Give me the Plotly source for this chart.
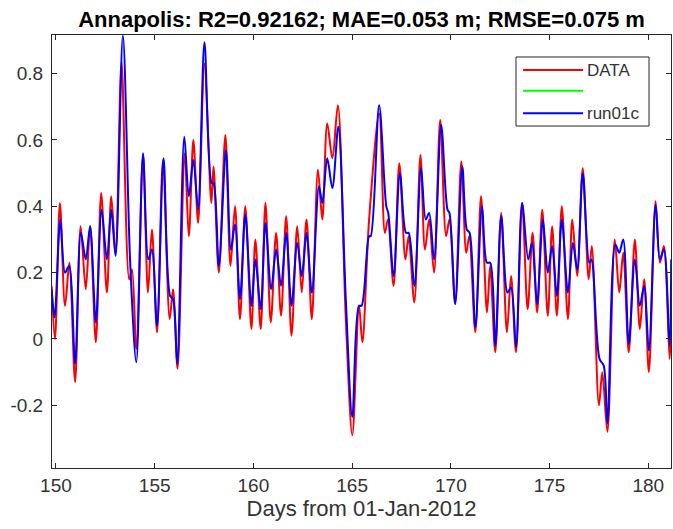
import plotly.graph_objects as go

# Observed water level (DATA) – turning points, day of year 2012 / metres
data_day = [149.78, 149.95, 150.20, 150.46, 150.68, 150.97, 151.25, 151.51, 151.73, 152.02,
            152.29, 152.58, 152.80, 153.02, 153.32, 153.71, 153.85, 154.07, 154.41, 154.66,
            154.86, 155.12, 155.42, 155.76, 155.93, 156.16, 156.52, 156.73, 156.96, 157.20,
            157.52, 157.87, 157.98, 158.25, 158.58, 158.84, 159.07, 159.32, 159.59, 159.90,
            160.10, 160.37, 160.61, 160.88, 161.15, 161.40, 161.66, 161.93, 162.22, 162.45,
            162.69, 162.96, 163.27, 163.49, 163.74, 164.00, 164.28, 164.68, 165.01, 165.35,
            165.52, 165.86, 166.37, 166.66, 166.81, 167.10, 167.39, 167.70, 167.86, 168.15,
            168.46, 168.69, 168.90, 169.15, 169.46, 169.76, 169.93, 170.22, 170.53, 170.78,
            170.93, 171.24, 171.53, 171.83, 171.99, 172.25, 172.55, 172.84, 173.05, 173.30,
            173.61, 173.89, 174.14, 174.37, 174.63, 174.91, 175.13, 175.37, 175.62, 175.93,
            176.15, 176.40, 176.68, 176.98, 177.14, 177.50, 177.67, 177.93, 178.30, 178.53,
            178.73, 179.01, 179.32, 179.57, 179.79, 180.03, 180.37, 180.59, 180.79, 181.08,
            181.16]
data_val = [0.16, 0.00, 0.41, 0.10, 0.23, -0.13, 0.34, 0.15, 0.34, -0.01,
            0.44, 0.14, 0.43, 0.26, 0.835, 0.18, 0.21, -0.03, 0.555, 0.14,
            0.33, 0.02, 0.54, 0.06, 0.15, -0.09, 0.56, 0.31, 0.60, 0.35,
            0.83, 0.41, 0.52, 0.20, 0.615, 0.22, 0.40, 0.06, 0.40, 0.03,
            0.30, 0.03, 0.41, 0.05, 0.32, 0.07, 0.37, 0.01, 0.34, 0.14,
            0.36, 0.06, 0.51, 0.36, 0.65, 0.545, 0.705, 0.06, -0.29, 0.10,
            -0.01, 0.36, 0.68, 0.32, 0.36, 0.16, 0.53, 0.24, 0.31, 0.11,
            0.555, 0.27, 0.36, 0.20, 0.66, 0.31, 0.36, 0.11, 0.535, 0.26,
            0.31, 0.02, 0.43, 0.08, 0.22, -0.04, 0.38, 0.02, 0.19, -0.04,
            0.41, 0.09, 0.32, 0.08, 0.39, 0.07, 0.34, 0.07, 0.40, 0.06,
            0.36, 0.19, 0.515, 0.18, 0.28, -0.20, -0.10, -0.28, 0.30, 0.14,
            0.26, -0.04, 0.30, 0.03, 0.18, -0.10, 0.415, 0.23, 0.28, -0.06,
            0.05]

# Model run01c – turning points, day of year 2012 / metres
model_day = [149.78, 149.93, 150.22, 150.46, 150.66, 150.97, 151.26, 151.51, 151.73, 152.02,
             152.31, 152.58, 152.80, 153.02, 153.39, 153.76, 154.07, 154.41, 154.68, 154.86,
             155.12, 155.45, 155.78, 155.93, 156.14, 156.50, 156.73, 156.96, 157.20, 157.52,
             157.89, 157.98, 158.25, 158.61, 158.86, 159.07, 159.32, 159.59, 159.90, 160.10,
             160.37, 160.61, 160.90, 161.15, 161.40, 161.66, 161.93, 162.22, 162.45, 162.69,
             162.96, 163.32, 163.49, 163.74, 164.00, 164.30, 164.68, 165.01, 165.35, 165.48,
             165.86, 165.94, 166.37, 166.73, 166.83, 167.10, 167.42, 167.73, 167.86, 168.15,
             168.49, 168.73, 168.90, 169.15, 169.51, 169.83, 169.93, 170.22, 170.58, 170.81,
             170.95, 171.24, 171.58, 171.83, 171.99, 172.25, 172.55, 172.87, 173.05, 173.30,
             173.61, 173.92, 174.11, 174.37, 174.66, 174.91, 175.13, 175.37, 175.62, 175.93,
             176.18, 176.40, 176.68, 177.01, 177.12, 177.53, 177.74, 177.93, 178.33, 178.53,
             178.73, 179.01, 179.32, 179.57, 179.79, 180.03, 180.37, 180.59, 180.79, 181.08,
             181.16]
model_val = [0.15, 0.065, 0.36, 0.20, 0.22, -0.075, 0.32, 0.24, 0.34, 0.05,
             0.39, 0.24, 0.39, 0.25, 0.915, 0.23, -0.07, 0.56, 0.24, 0.27,
             0.04, 0.545, 0.13, 0.12, -0.075, 0.61, 0.43, 0.54, 0.39, 0.895,
             0.47, 0.47, 0.22, 0.57, 0.27, 0.345, 0.12, 0.375, 0.10, 0.24,
             0.09, 0.35, 0.15, 0.27, 0.16, 0.32, 0.10, 0.29, 0.19, 0.32,
             0.14, 0.46, 0.41, 0.545, 0.455, 0.64, 0.12, -0.235, 0.10, 0.10,
             0.31, 0.31, 0.705, 0.40, 0.38, 0.19, 0.50, 0.32, 0.32, 0.16,
             0.515, 0.36, 0.38, 0.24, 0.645, 0.39, 0.38, 0.105, 0.52, 0.33,
             0.32, 0.035, 0.40, 0.23, 0.23, -0.02, 0.37, 0.14, 0.155, -0.025,
             0.41, 0.24, 0.29, 0.105, 0.36, 0.20, 0.28, 0.13, 0.36, 0.14,
             0.29, 0.21, 0.50, 0.23, 0.24, -0.06, -0.08, -0.255, 0.285, 0.26,
             0.30, -0.015, 0.24, 0.10, 0.16, -0.035, 0.405, 0.24, 0.27, -0.02,
             0.24]

x_ticks = [150, 155, 160, 165, 170, 175, 180]
y_ticks = [-0.2, 0, 0.2, 0.4, 0.6, 0.8]
y_tick_labels = ["-0.2", "0", "0.2", "0.4", "0.6", "0.8"]

series_names = ["DATA", "", "run01c"]
series_colors = ["#ff0000", "#00ff00", "#0000ff"]

FONT = "Liberation Sans, Arial, sans-serif"
AXIS_COLOR = "#262626"
TEXT_COLOR = "#333333"

fig = go.Figure()
fig.add_trace(go.Scatter(x=data_day, y=data_val, mode="lines", name=series_names[0],
                         line=dict(color=series_colors[0], width=2, shape="spline", smoothing=0.9)))
fig.add_trace(go.Scatter(x=[], y=[], mode="lines", name=series_names[1],
                         line=dict(color=series_colors[1], width=2)))
fig.add_trace(go.Scatter(x=model_day, y=model_val, mode="lines", name=series_names[2],
                         line=dict(color=series_colors[2], width=2, shape="spline", smoothing=0.9)))

axis_common = dict(showline=True, linecolor=AXIS_COLOR, linewidth=1, mirror="ticks",
                   ticks="inside", ticklen=5, tickcolor=AXIS_COLOR, showgrid=False,
                   zeroline=False, tickfont=dict(family=FONT, size=19, color=TEXT_COLOR))

fig.update_xaxes(range=[149.8, 181.15], tickvals=x_ticks,
                 title=dict(text="Days from 01-Jan-2012", standoff=5,
                            font=dict(family=FONT, size=22, color=TEXT_COLOR)),
                 **axis_common)
fig.update_yaxes(range=[-0.389, 0.9165], tickvals=y_ticks, ticktext=y_tick_labels,
                 ticklabelstandoff=4, **axis_common)

# Boxed legend drawn in the upper right corner
shapes = [dict(type="rect", xref="paper", yref="paper", x0=0.7496, x1=0.9645,
               y0=0.7898, y1=0.9492, line=dict(color=AXIS_COLOR, width=1),
               fillcolor="white", layer="above")]
annotations = []
legend_rows = [0.919, 0.871, 0.819]
for name, color, yy in zip(series_names, series_colors, legend_rows):
    shapes.append(dict(type="line", xref="paper", yref="paper", x0=0.761, x1=0.858,
                       y0=yy, y1=yy, line=dict(color=color, width=2), layer="above"))
    if name:
        annotations.append(dict(text=name, xref="paper", yref="paper", x=0.861, y=yy,
                                xanchor="left", yanchor="middle", showarrow=False,
                                font=dict(family=FONT, size=17, color=TEXT_COLOR)))

fig.update_layout(
    width=673, height=529,
    margin=dict(l=52, r=2, t=35, b=61),
    paper_bgcolor="white", plot_bgcolor="white",
    showlegend=False,
    shapes=shapes, annotations=annotations,
    title=dict(text="<b>Annapolis: R2=0.92162; MAE=0.053 m; RMSE=0.075 m</b>",
               x=0.5, xanchor="center", xref="paper", y=0.963, yanchor="middle",
               font=dict(family=FONT, size=22, color="black")),
)

fig.write_html("out.html")
